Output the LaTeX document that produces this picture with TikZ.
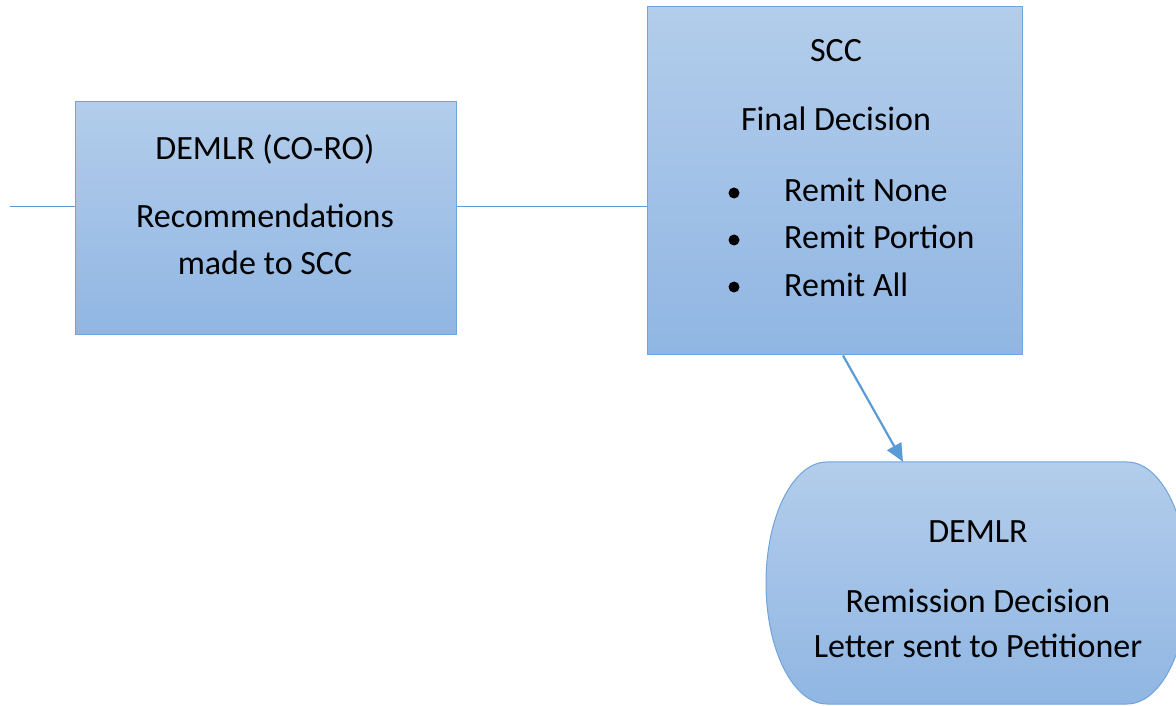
\documentclass[tikz,border=0pt]{standalone}
\usepackage{fontspec}
\setmainfont{Carlito}
\usetikzlibrary{arrows.meta,calc}
\definecolor{topc}{HTML}{B3CDEB}
\definecolor{botc}{HTML}{90B6E3}
\definecolor{edgec}{HTML}{6FA4DC}
\definecolor{linec}{HTML}{5B9BD5}
\tikzset{
  boxstyle/.style={draw=edgec, line width=1pt, top color=topc, bottom color=botc, inner sep=0pt, rectangle},
  lbl/.style={anchor=base, inner sep=0pt, font=\fontsize{34pt}{45pt}\selectfont, text=black},
  lbll/.style={anchor=base west, inner sep=0pt, font=\fontsize{34pt}{45pt}\selectfont, text=black},
  dotstyle/.style={circle, fill=black, inner sep=0pt, minimum size=11pt},
  conn/.style={draw=linec, line width=1pt},
  arr/.style={draw=linec, line width=2.2pt, -{Triangle[length=18pt,width=16pt]}}
}
\begin{document}
\begin{tikzpicture}[x=1pt,y=1pt]
\useasboundingbox (0,0) rectangle (1176,705);
\clip (0,0) rectangle (1176,705);
% boxes
\node[boxstyle, minimum width=381pt, minimum height=233pt] (box1) at (265.5,486.5) {};
\node[boxstyle, minimum width=375pt, minimum height=348pt] (box2) at (834.5,524) {};
\node[inner sep=0pt, minimum width=422pt, minimum height=242pt] (box3) at (977,122) {};
\shade[top color=topc, bottom color=botc, draw=edgec, line width=1pt]
  (827,243) -- (1127,243) arc[start angle=90,end angle=-90,x radius=61pt,y radius=121pt]
  -- (827,1) arc[start angle=270,end angle=90,x radius=61pt,y radius=121pt] -- cycle;
% connectors
\coordinate (lstart) at (10,498);
\draw[conn] (lstart) -- (lstart -| box1.west);
\draw[conn] (box1.east |- lstart) -- (box2.west |- lstart);
\coordinate (as) at ([xshift=8.5pt]box2.south);
\coordinate (at) at ([xshift=-74pt]box3.north);
\draw[arr] (as) -- (at);
% texts
\node[lbl] (t1a) at (265,545) {DEMLR (CO-RO)};
\node[lbl] (t1b) at (265,477) {Recommendations};
\node[lbl] (t1c) at (265,430) {made to SCC};
\node[lbl] (t2a) at (836,643) {SCC};
\node[lbl] (t2b) at (836,574) {Final Decision};
\node[dotstyle] (d1) at (734,512) {};
\node[dotstyle] (d2) at (734,465) {};
\node[dotstyle] (d3) at (734,418) {};
\node[lbll] (t2c) at (784,503) {Remit None};
\node[lbll] (t2d) at (784,456) {Remit Portion};
\node[lbll] (t2e) at (784,408) {Remit All};
\node[lbl] (t3a) at (978,163) {DEMLR};
\node[lbl] (t3b) at (978,93) {Remission Decision};
\node[lbl] (t3c) at (978,48) {Letter sent to Petitioner};
\end{tikzpicture}
\end{document}
